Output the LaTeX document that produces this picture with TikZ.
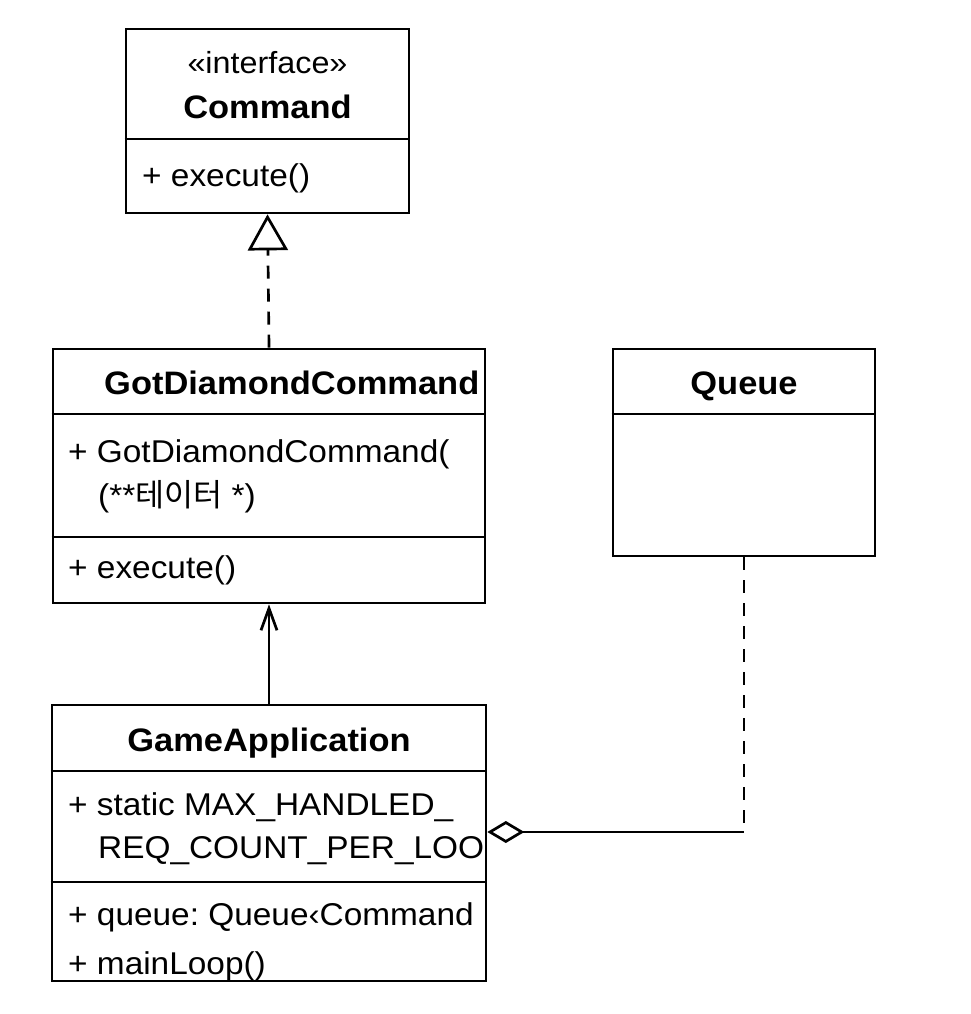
\documentclass[tikz,border=0pt]{standalone}
\usepackage{fontspec}
\setmainfont{Liberation Sans}[FakeStretch=1.06]
\newfontfamily\krfont{Noto Sans CJK KR}
\usetikzlibrary{arrows.meta, positioning, calc}
\frenchspacing

\begin{document}
\begin{tikzpicture}[x=1pt, y=-1pt,
        classbox/.style={rectangle, draw, line width=2.7pt, inner sep=0pt},
        sepline/.style={line width=2.7pt},
        title/.style={anchor=base, inner sep=0pt, font=\fontsize{32.5}{38}\selectfont\bfseries},
        stereo/.style={anchor=base, inner sep=0pt, font=\fontsize{30.5}{36}\selectfont},
        member/.style={anchor=base west, inner sep=0pt, font=\fontsize{31.5}{38}\selectfont},
        dashline/.style={line width=2.7pt, dash pattern=on 13pt off 10pt},
        realize/.style={dashline, -{Triangle[open, length=36pt, width=40pt, line width=2.7pt]}},
        assoc/.style={line width=2.7pt, -{Straight Barb[length=22pt, width=16pt, line width=2.7pt]}},
        aggr/.style={line width=2.7pt, {Diamond[open, length=37pt, width=22pt, line width=2.7pt]}-}
    ]
    \useasboundingbox (0,0) rectangle (971,1014);

    \node [classbox, minimum width=283pt, minimum height=184pt] (cmd) at (267.5,121) {};
    \draw [sepline] (cmd.west |- 0,139) -- (cmd.east |- 0,139);
    \node [stereo] (cmdst) at (cmd.center |- 0,74) {«interface»};
    \node [title] (cmdname) at (cmd.center |- 0,118) {Command};
    \node [member] (cmdop) at (142,186) {+ execute()};

    \node [classbox, minimum width=432pt, minimum height=254pt] (gdc) at (269,476) {};
    \draw [sepline] (gdc.west |- 0,414) -- (gdc.east |- 0,414);
    \draw [sepline] (gdc.west |- 0,537) -- (gdc.east |- 0,537);
    \node [title, anchor=base west] (gdcname) at (104,394) {GotDiamondCommand};
    \node [member] (gdcctor) at (68,462) {+ GotDiamondCommand(};
    \node [member] (gdcarg) at (98,506) {(**{\krfont 테이터} *)};
    \node [member] (gdcop) at (68,578) {+ execute()};

    \node [classbox, minimum width=262pt, minimum height=207pt] (queue) at (744,452.5) {};
    \draw [sepline] (queue.west |- 0,414) -- (queue.east |- 0,414);
    \node [title] (queuename) at (queue.center |- 0,394) {Queue};

    \node [classbox, minimum width=434pt, minimum height=276pt] (app) at (269,843) {};
    \draw [sepline] (app.west |- 0,771) -- (app.east |- 0,771);
    \draw [sepline] (app.west |- 0,882) -- (app.east |- 0,882);
    \node [title] (appname) at (app.center |- 0,751) {GameApplication};
    \node [member] (appattr) at (68,815) {+ static MAX\_HANDLED\_};
    \node [member] (appattrb) at (98,858) {REQ\_COUNT\_PER\_LOO};
    \node [member] (appqueue) at (68,925) {+ queue: Queue‹Command};
    \node [member] (appop) at (68,974) {+ mainLoop()};

    \draw [realize] (gdc.north) -- (cmd.south);
    \draw [assoc] (app.north) -- (gdc.south);
    \coordinate (turn) at (queue.south |- 0,832);
    \coordinate (aggend) at (app.east |- turn);
    \draw [dashline] (queue.south) -- (turn);
    \draw [aggr] (aggend) -- (turn);
\end{tikzpicture}
\end{document}
